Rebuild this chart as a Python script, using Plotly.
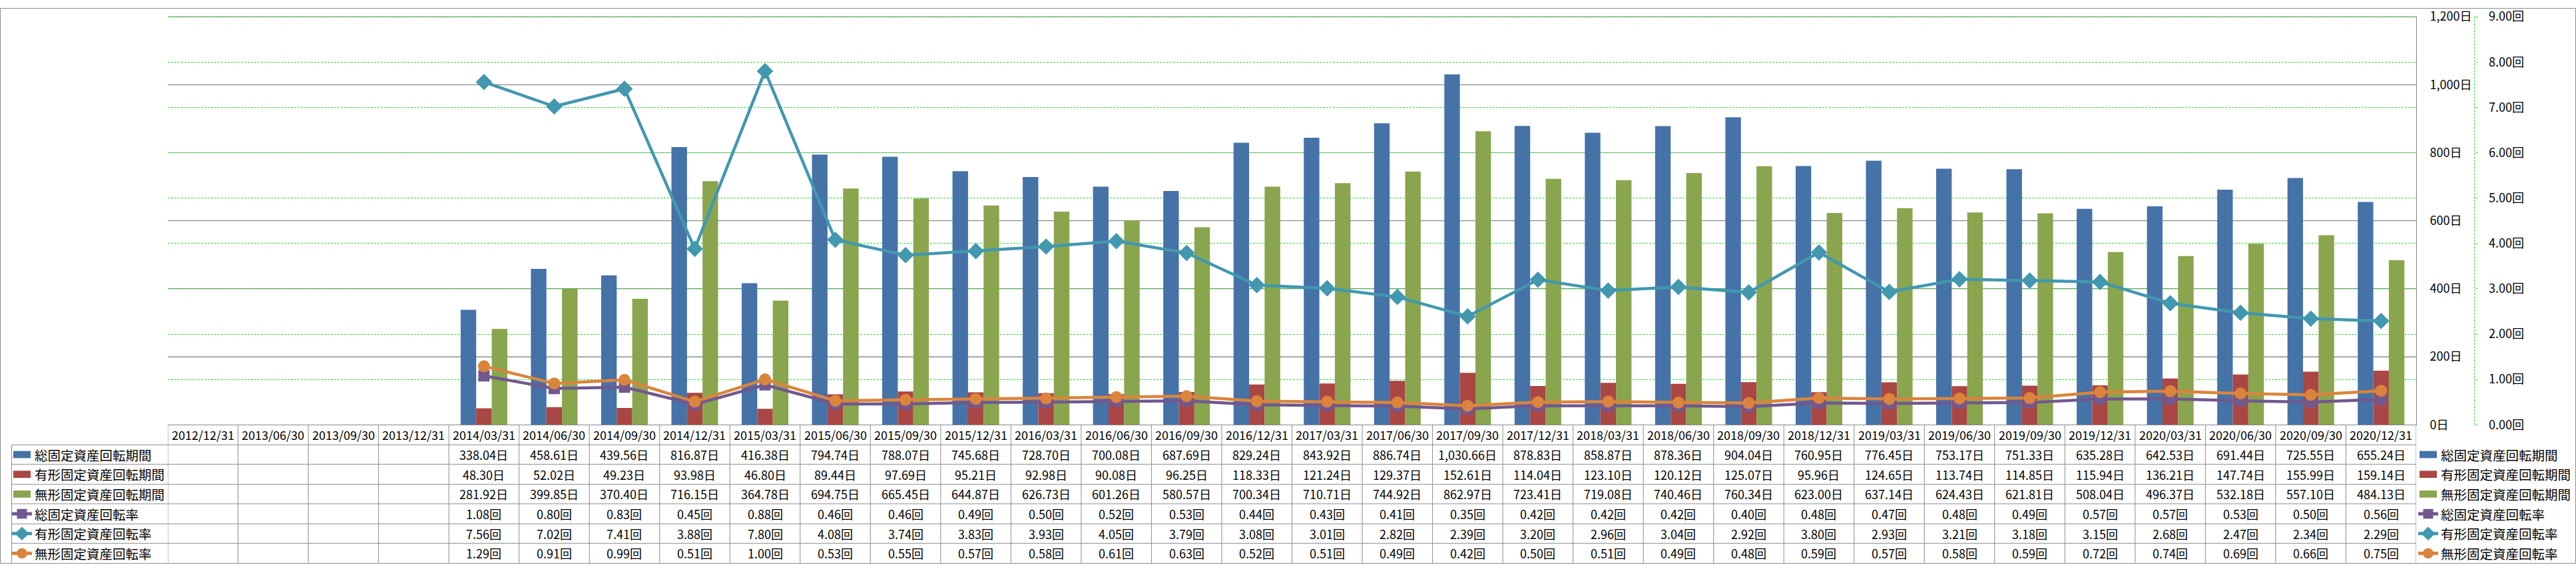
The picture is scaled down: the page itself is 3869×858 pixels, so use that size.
import plotly.graph_objects as go

# ---------------- data ----------------
dates = ["2012/12/31", "2013/06/30", "2013/09/30", "2013/12/31",
         "2014/03/31", "2014/06/30", "2014/09/30", "2014/12/31",
         "2015/03/31", "2015/06/30", "2015/09/30", "2015/12/31",
         "2016/03/31", "2016/06/30", "2016/09/30", "2016/12/31",
         "2017/03/31", "2017/06/30", "2017/09/30", "2017/12/31",
         "2018/03/31", "2018/06/30", "2018/09/30", "2018/12/31",
         "2019/03/31", "2019/06/30", "2019/09/30", "2019/12/31",
         "2020/03/31", "2020/06/30", "2020/09/30", "2020/12/31"]

total_days = [None, None, None, None,
              338.04, 458.61, 439.56, 816.87, 416.38, 794.74, 788.07, 745.68,
              728.70, 700.08, 687.69, 829.24, 843.92, 886.74, 1030.66, 878.83,
              858.87, 878.36, 904.04, 760.95, 776.45, 753.17, 751.33, 635.28,
              642.53, 691.44, 725.55, 655.24]
tangible_days = [None, None, None, None,
                 48.30, 52.02, 49.23, 93.98, 46.80, 89.44, 97.69, 95.21,
                 92.98, 90.08, 96.25, 118.33, 121.24, 129.37, 152.61, 114.04,
                 123.10, 120.12, 125.07, 95.96, 124.65, 113.74, 114.85, 115.94,
                 136.21, 147.74, 155.99, 159.14]
intangible_days = [None, None, None, None,
                   281.92, 399.85, 370.40, 716.15, 364.78, 694.75, 665.45, 644.87,
                   626.73, 601.26, 580.57, 700.34, 710.71, 744.92, 862.97, 723.41,
                   719.08, 740.46, 760.34, 623.00, 637.14, 624.43, 621.81, 508.04,
                   496.37, 532.18, 557.10, 484.13]
total_rate = [None, None, None, None,
              1.08, 0.80, 0.83, 0.45, 0.88, 0.46, 0.46, 0.49,
              0.50, 0.52, 0.53, 0.44, 0.43, 0.41, 0.35, 0.42,
              0.42, 0.42, 0.40, 0.48, 0.47, 0.48, 0.49, 0.57,
              0.57, 0.53, 0.50, 0.56]
tangible_rate = [None, None, None, None,
                 7.56, 7.02, 7.41, 3.88, 7.80, 4.08, 3.74, 3.83,
                 3.93, 4.05, 3.79, 3.08, 3.01, 2.82, 2.39, 3.20,
                 2.96, 3.04, 2.92, 3.80, 2.93, 3.21, 3.18, 3.15,
                 2.68, 2.47, 2.34, 2.29]
intangible_rate = [None, None, None, None,
                   1.29, 0.91, 0.99, 0.51, 1.00, 0.53, 0.55, 0.57,
                   0.58, 0.61, 0.63, 0.52, 0.51, 0.49, 0.42, 0.50,
                   0.51, 0.49, 0.48, 0.59, 0.57, 0.58, 0.59, 0.72,
                   0.74, 0.69, 0.66, 0.75]

series_names = ["総固定資産回転期間", "有形固定資産回転期間", "無形固定資産回転期間",
                "総固定資産回転率", "有形固定資産回転率", "無形固定資産回転率"]
series_units = ["日", "日", "日", "回", "回", "回"]
series_colors = ["#4572A7", "#AA4643", "#89A54E", "#71588F", "#4198AF", "#DB843D"]
line_symbols = ["square", "diamond", "circle"]
line_sizes = [17, 19, 18]

days_axis_max = 1200
days_axis_step = 200
rate_axis_max = 9
rate_axis_step = 1

bar_series = [total_days, tangible_days, intangible_days]
line_series = [total_rate, tangible_rate, intangible_rate]
all_series = bar_series + line_series

# ---------------- geometry helpers (pixels -> paper) ----------------
W, H = 3869, 858
def px(x):
    return x / W
def py(y):
    return 1 - y / H

PLOT_L, PLOT_R, PLOT_T, PLOT_B = 252, 3629, 13.5, 643.5
Y2_X = 3716.5
GRID_GRAY = "#868686"
GREEN = "#2EE02E"
FONT = "Noto Sans CJK JP"
# headroom so plotly keeps the top tick / gridline at the nominal maximum
PAD = 1205 / 1200
DOMAIN_T = PLOT_B - (PLOT_B - PLOT_T) * PAD

fig = go.Figure()

for name, vals, col in zip(series_names[:3], bar_series, series_colors[:3]):
    fig.add_trace(go.Bar(x=dates, y=vals, name=name,
                         marker=dict(color=col, line=dict(width=0))))

for name, vals, col, sym, sz in zip(series_names[3:], line_series, series_colors[3:],
                                    line_symbols, line_sizes):
    fig.add_trace(go.Scatter(x=dates, y=vals, name=name, yaxis="y2",
                             mode="lines+markers",
                             line=dict(color=col, width=4.5),
                             marker=dict(symbol=sym, size=sz, color=col,
                                         line=dict(width=0))))

fig.update_layout(
    width=W, height=H,
    margin=dict(l=0, r=0, t=0, b=0),
    paper_bgcolor="white", plot_bgcolor="rgba(0,0,0,0)",
    showlegend=False,
    barmode="group", bargap=0.336, bargroupgap=0,
    font=dict(family=FONT, size=18, color="black"),
    xaxis=dict(type="category", domain=[px(PLOT_L), px(PLOT_R)],
               range=[-0.5, len(dates) - 0.5],
               showticklabels=False, showgrid=False, ticks="",
               showline=True, linecolor=GRID_GRAY, linewidth=1, zeroline=False),
    yaxis=dict(domain=[py(PLOT_B), py(DOMAIN_T)], range=[0, days_axis_max * PAD],
               tick0=0, dtick=days_axis_step,
               side="right", showline=True, linecolor=GRID_GRAY, linewidth=1,
               showgrid=True, gridcolor=GRID_GRAY, gridwidth=1,
               tickformat=",d", ticksuffix="日", ticks="",
               ticklabelstandoff=16, ticklabeloverflow="allow", zeroline=False,
               tickfont=dict(family=FONT, size=18, color="black")),
    yaxis2=dict(overlaying="y", anchor="free", position=px(Y2_X), side="right",
                range=[0, rate_axis_max * PAD], tick0=0, dtick=rate_axis_step,
                tickformat=".2f", ticksuffix="回",
                showgrid=True, gridcolor=GREEN, griddash="3px,2px", gridwidth=1,
                ticks="outside", ticklen=3, tickcolor=GREEN,
                showline=False, zeroline=False, ticklabelstandoff=14,
                ticklabeloverflow="allow",
                tickfont=dict(family=FONT, size=18, color="black")),
)

shapes = []
annotations = []
TBL_GRAY = "#8C8C8C"

# gray day-axis gridlines repeated above the green rate grid (below the bars)
for v in range(days_axis_step, days_axis_max + 1, days_axis_step):
    shapes.append(dict(type="line", xref="paper", yref="y", layer="between",
                       x0=px(PLOT_L), x1=px(PLOT_R), y0=v, y1=v,
                       line=dict(color=GRID_GRAY, width=1)))

# outer chart border
shapes.append(dict(type="rect", xref="paper", yref="paper",
                   x0=px(0.5), x1=px(W - 0.5), y0=py(H - 0.5), y1=py(0.5),
                   line=dict(color=TBL_GRAY, width=1)))
# plot-area right border stops at the top gridline
shapes.append(dict(type="line", xref="paper", yref="paper",
                   x0=px(PLOT_R), x1=px(PLOT_R), y0=py(PLOT_T - 0.5), y1=py(DOMAIN_T - 1),
                   line=dict(color="white", width=2)))
# secondary axis dashed line
shapes.append(dict(type="line", xref="paper", yref="paper",
                   x0=px(Y2_X), x1=px(Y2_X), y0=py(PLOT_B), y1=py(PLOT_T),
                   line=dict(color=GREEN, width=1, dash="3px,2px")))

# data table
HEADER_T = PLOT_B
row_tops = [674.5, 704.5, 735.5, 765.5, 796.5, 826.5, 857.5]
row_centers = [(row_tops[i] + row_tops[i + 1]) / 2 for i in range(6)]
header_center = (HEADER_T + row_tops[0]) / 2
TBL_L = 17.5

for yt in row_tops[:-1]:
    shapes.append(dict(type="line", xref="paper", yref="paper",
                       x0=px(TBL_L), x1=px(PLOT_R), y0=py(yt), y1=py(yt),
                       line=dict(color=TBL_GRAY, width=1)))
shapes.append(dict(type="line", xref="paper", yref="paper",
                   x0=px(TBL_L), x1=px(TBL_L), y0=py(row_tops[0]), y1=py(row_tops[-1]),
                   line=dict(color=TBL_GRAY, width=1)))
for i in range(len(dates) + 1):
    shapes.append(dict(type="line", xref="x", yref="paper",
                       x0=i - 0.5, x1=i - 0.5, y0=py(HEADER_T), y1=py(row_tops[-1]),
                       line=dict(color=TBL_GRAY, width=1)))

for d in dates:
    annotations.append(dict(x=d, xref="x", y=py(header_center), yref="paper",
                            text=d, showarrow=False, xanchor="center", yanchor="middle",
                            font=dict(family=FONT, size=18, color="black")))

for r, (vals, unit) in enumerate(zip(all_series, series_units)):
    for d, v in zip(dates, vals):
        if v is None:
            continue
        annotations.append(dict(x=d, xref="x", y=py(row_centers[r]), yref="paper",
                                text=f"{v:,.2f}{unit}", showarrow=False,
                                xanchor="center", yanchor="middle",
                                font=dict(family=FONT, size=18, color="black")))


def legend_key(idx, x_left, yc):
    col = series_colors[idx]
    if idx < 3:
        shapes.append(dict(type="rect", xref="paper", yref="paper",
                           x0=px(x_left + 2), x1=px(x_left + 28),
                           y0=py(yc + 5.5), y1=py(yc - 5.5),
                           fillcolor=col, line=dict(width=0)))
        return
    shapes.append(dict(type="line", xref="paper", yref="paper",
                       x0=px(x_left), x1=px(x_left + 30), y0=py(yc), y1=py(yc),
                       line=dict(color=col, width=5)))
    cx = x_left + 15
    if idx == 3:
        shapes.append(dict(type="rect", xref="paper", yref="paper",
                           x0=px(cx - 7.5), x1=px(cx + 7.5),
                           y0=py(yc + 7.5), y1=py(yc - 7.5),
                           fillcolor=col, line=dict(width=0)))
    elif idx == 4:
        r = 10.5
        path = (f"M {px(cx - r)} {py(yc)} L {px(cx)} {py(yc - r)} "
                f"L {px(cx + r)} {py(yc)} L {px(cx)} {py(yc + r)} Z")
        shapes.append(dict(type="path", xref="paper", yref="paper", path=path,
                           fillcolor=col, line=dict(width=0)))
    else:
        shapes.append(dict(type="circle", xref="paper", yref="paper",
                           x0=px(cx - 8), x1=px(cx + 8),
                           y0=py(yc + 8), y1=py(yc - 8),
                           fillcolor=col, line=dict(width=0)))


for i, name in enumerate(series_names):
    yc = row_centers[i]
    # left table legend keys
    legend_key(i, 18, yc)
    annotations.append(dict(x=px(50), xref="paper", y=py(yc), yref="paper",
                            text=name, showarrow=False, xanchor="left", yanchor="middle",
                            font=dict(family=FONT, size=19.5, color="black")))
    # right-side legend
    legend_key(i, 3632, yc)
    annotations.append(dict(x=px(3664), xref="paper", y=py(yc), yref="paper",
                            text=name, showarrow=False, xanchor="left", yanchor="middle",
                            font=dict(family=FONT, size=19.5, color="black")))

fig.update_layout(shapes=shapes, annotations=annotations)

fig.write_html("out.html", config={"displayModeBar": False},
               post_script="document.body.style.margin='0';document.body.style.overflow='hidden';")
